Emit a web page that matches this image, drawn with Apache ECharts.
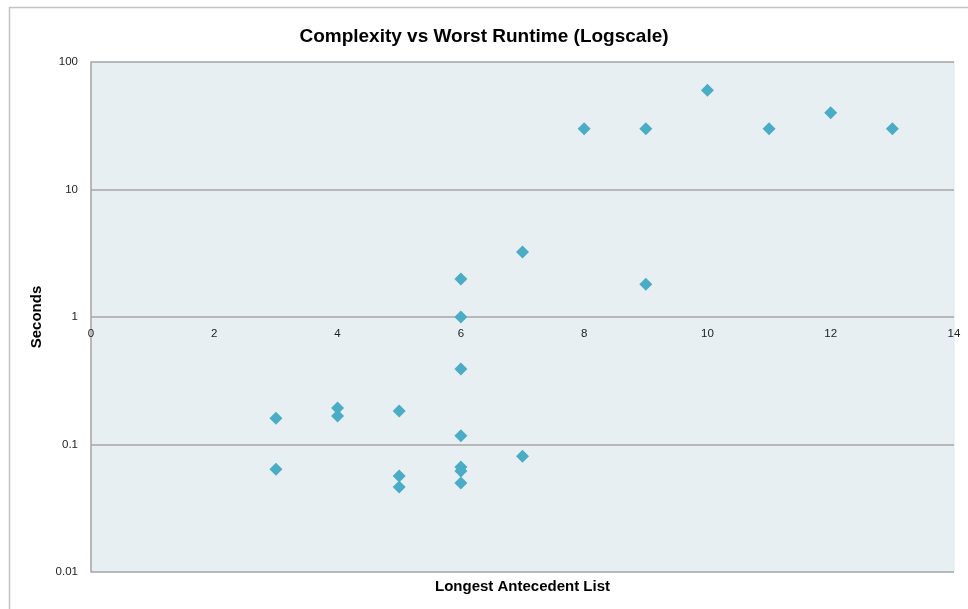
<!DOCTYPE html>
<html><head><meta charset="utf-8">
<script src="https://cdn.jsdelivr.net/npm/echarts@6/dist/echarts.min.js"></script>
<style>html,body{margin:0;padding:0;background:#fff}#c{width:968px;height:609px}</style>
</head><body><div id="c"></div>
<script>
const titleText = 'Complexity vs Worst Runtime (Logscale)';
const xName = 'Longest Antecedent List';
const yName = 'Seconds';
const xVals = [3, 3, 4, 4, 5, 5, 5, 6, 6, 6, 6, 6, 6, 6, 7, 7, 8, 9, 9, 10, 11, 12, 13];
const yVals = [0.161, 0.064, 0.193, 0.167, 0.183, 0.0566, 0.0464, 1.0, 1.99, 0.391, 0.117, 0.0666, 0.062, 0.0499, 3.23, 0.081, 30, 30, 1.81, 60, 30, 40, 30];
const points = xVals.map((x, i) => [x, yVals[i]]);
const chart = echarts.init(document.getElementById('c'), null, {renderer: 'canvas'});
const FONT = '"Liberation Sans", Arial, sans-serif';
chart.setOption({
  backgroundColor: '#fff',
  animation: false,
  title: {
    text: titleText, left: 'center', top: 22,
    textStyle: {fontFamily: FONT, fontSize: 19, fontWeight: 'bold', color: '#000'}
  },
  graphic: [{
    type: 'rect', left: 7, top: 5, silent: true,
    shape: {width: 1000, height: 700},
    style: {fill: 'none', stroke: '#c4c4c4', lineWidth: 1.5}
  }],
  grid: {
    left: 91, right: 14, top: 62, bottom: 37,
    show: true, backgroundColor: '#E8EFF3', borderColor: '#dfe6ea', borderWidth: 1
  },
  xAxis: {
    type: 'value', min: 0, max: 14, interval: 2,
    offset: -255,
    axisLine: {show: false}, axisTick: {show: false}, splitLine: {show: false},
    axisLabel: {fontFamily: FONT, fontSize: 11.5, color: '#222', margin: 11},
    name: xName, nameLocation: 'middle', nameGap: 262,
    nameTextStyle: {fontFamily: FONT, fontSize: 15, fontWeight: 'bold', color: '#000'}
  },
  yAxis: {
    type: 'log', logBase: 10, min: 0.01, max: 100,
    axisLine: {show: true, lineStyle: {color: '#a6a6a6', width: 1.5}},
    axisTick: {show: false},
    splitLine: {show: true, lineStyle: {color: '#a6a6a6', width: 1.5}},
    axisLabel: {fontFamily: FONT, fontSize: 11.5, color: '#222', margin: 13,
      formatter: v => String(+v.toPrecision(3))},
    name: yName, nameLocation: 'middle', nameGap: 45, nameRotate: 90,
    nameTextStyle: {fontFamily: FONT, fontSize: 15, fontWeight: 'bold', color: '#000'}
  },
  series: [{
    type: 'scatter', data: points, symbol: 'diamond', symbolSize: 13,
    itemStyle: {color: '#4BACC6', opacity: 1}
  }]
});
</script></body></html>
